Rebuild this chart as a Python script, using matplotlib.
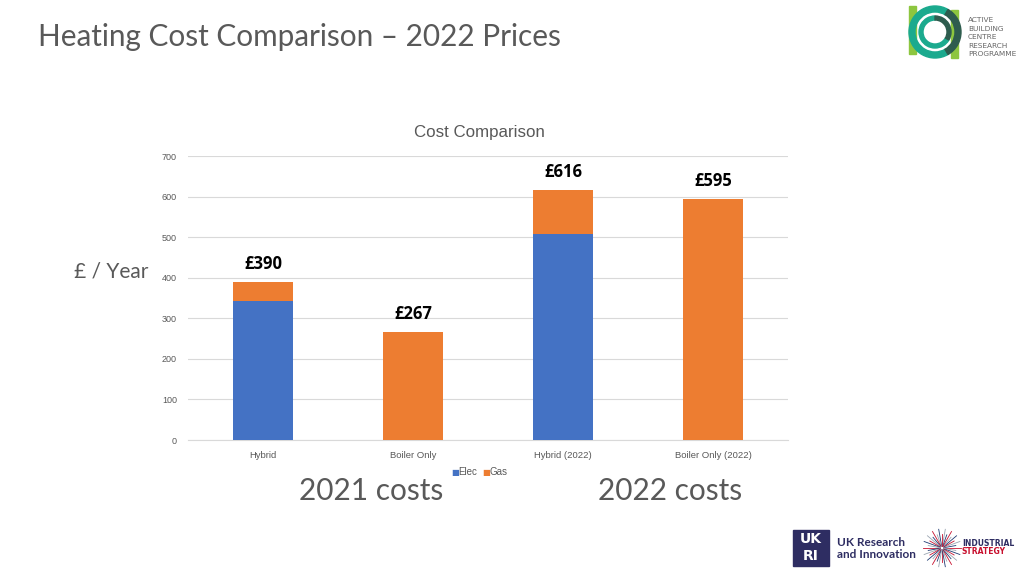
import matplotlib
matplotlib.use("Agg")
import matplotlib.pyplot as plt
import numpy as np
from matplotlib.patches import Rectangle, Wedge

categories = ["Hybrid", "Boiler Only", "Hybrid (2022)", "Boiler Only (2022)"]
elec = [342, 0, 508, 0]
gas = [48, 267, 108, 595]
totals = ["£390", "£267", "£616", "£595"]
yticks = [0, 100, 200, 300, 400, 500, 600, 700]

BLUE = "#4472C4"
ORANGE = "#ED7D31"
GRAY = "#595959"

fig = plt.figure(figsize=(10.24, 5.76), dpi=100)
fig.patch.set_facecolor("white")

ax = fig.add_axes([188/1024, 1-440/576, 600/1024, 284/576])
x = np.arange(len(categories))
ax.bar(x, elec, width=0.4, color=BLUE, zorder=3)
ax.bar(x, gas, width=0.4, bottom=elec, color=ORANGE, zorder=3)
ax.set_xlim(-0.5, 3.5)
ax.set_ylim(0, 700)
ax.set_yticks(yticks)
ax.set_yticklabels([str(v) for v in yticks], fontsize=6.5, color=GRAY, family="Liberation Sans")
ax.set_xticks(x)
ax.set_xticklabels(categories, fontsize=6.8, color=GRAY, family="Liberation Sans")
ax.tick_params(length=0, pad=8)
ax.tick_params(axis="y", pad=8)
ax.grid(axis="y", color="#D9D9D9", linewidth=0.8, zorder=0)
for s in ["top", "right", "left"]:
    ax.spines[s].set_visible(False)
ax.spines["bottom"].set_color("#D9D9D9")
ax.set_facecolor("white")

for i, t in enumerate(totals):
    tot = elec[i] + gas[i]
    ax.annotate(t, (x[i], tot), xytext=(0, 13), textcoords="offset points",
                ha="center", va="center", fontsize=12, fontweight="bold",
                family="Open Sans", color="black")

# legend
fig.text(451/1024, 1-472/576, "■", color=BLUE, fontsize=6, ha="left", va="center")
fig.text(458/1024, 1-472/576, "Elec", color=GRAY, fontsize=7, ha="left", va="center", family="Liberation Sans")
fig.text(482/1024, 1-472/576, "■", color=ORANGE, fontsize=6, ha="left", va="center")
fig.text(490/1024, 1-472/576, "Gas", color=GRAY, fontsize=7, ha="left", va="center", family="Liberation Sans")

# titles
fig.text(38/1024, 1-37/576, "Heating Cost Comparison – 2022 Prices", fontsize=21.4,
         color=GRAY, family="Lato", ha="left", va="center")
fig.text(479/1024, 1-133/576, "Cost Comparison", fontsize=12.2, color=GRAY,
         family="Liberation Sans", ha="center", va="center")
fig.text(111/1024, 1-272/576, "£ / Year", fontsize=15, color=GRAY, family="Lato",
         ha="center", va="center")
fig.text(371/1024, 1-491/576, "2021 costs", fontsize=21.5, color=GRAY, family="Lato",
         ha="center", va="center")
fig.text(670/1024, 1-491/576, "2022 costs", fontsize=21.5, color=GRAY, family="Lato",
         ha="center", va="center")

# ABC logo
lax = fig.add_axes([905/1024, 1-62/576, 60/1024, 60/576])
lax.set_xlim(0, 60); lax.set_ylim(0, 60); lax.axis("off")
lax.add_patch(Rectangle((4, 8), 7, 48, color="#8DC63F"))
lax.add_patch(Rectangle((46, 4), 7, 48, color="#8DC63F"))
lax.add_patch(Wedge((30, 30), 26, 60, 300, width=6, color="#1BAA8E"))
lax.add_patch(Wedge((30, 30), 26, 300, 60, width=6, color="#2E5C4E"))
lax.add_patch(Wedge((30, 30), 16, 90, 330, width=4, color="#1BAA8E"))
lax.add_patch(Wedge((30, 30), 16, 330, 90, width=4, color="#2E5C4E"))
for j, w in enumerate(["ACTIVE", "BUILDING", "CENTRE", "RESEARCH", "PROGRAMME"]):
    fig.text(968/1024, 1-(20 + j*8.6)/576, w, fontsize=5.3, color="#666666",
             family="DejaVu Sans", ha="left", va="center")

# UKRI logo
fig.patches.append(Rectangle((793/1024, 1-566/576), 36/1024, 36/576,
                             transform=fig.transFigure, color="#2E2D62"))
fig.text(811/1024, 1-539/576, "UK", fontsize=10, color="white", fontweight="bold",
         ha="center", va="center", family="DejaVu Sans")
fig.text(811/1024, 1-556/576, "RI", fontsize=10, color="white", fontweight="bold",
         ha="center", va="center", family="DejaVu Sans")
fig.text(837/1024, 1-542/576, "UK Research", fontsize=8.5, color="#2E2D62",
         fontweight="bold", ha="left", va="center", family="Lato")
fig.text(837/1024, 1-555/576, "and Innovation", fontsize=8.5, color="#2E2D62",
         fontweight="bold", ha="left", va="center", family="Lato")

# Industrial strategy starburst
sax = fig.add_axes([922/1024, 1-568/576, 40/1024, 40/576])
sax.set_xlim(-1, 1); sax.set_ylim(-1, 1); sax.axis("off")
angs = np.linspace(0, 2*np.pi, 36, endpoint=False)
cols = ["#C8102E", "#1F3B73", "#9AA5B1"]
for k, a in enumerate(angs):
    r = 0.95 if k % 2 == 0 else 0.7
    sax.plot([0.1*np.cos(a), r*np.cos(a)], [0.1*np.sin(a), r*np.sin(a)],
             color=cols[k % 3], lw=0.6)
fig.text(962/1024, 1-544/576, "INDUSTRIAL", fontsize=5.5, color="#2E2D62",
         fontweight="bold", ha="left", va="center", family="DejaVu Sans")
fig.text(962/1024, 1-552/576, "STRATEGY", fontsize=5.5, color="#C8102E",
         fontweight="bold", ha="left", va="center", family="DejaVu Sans")

fig.savefig("out.png", dpi=100)
